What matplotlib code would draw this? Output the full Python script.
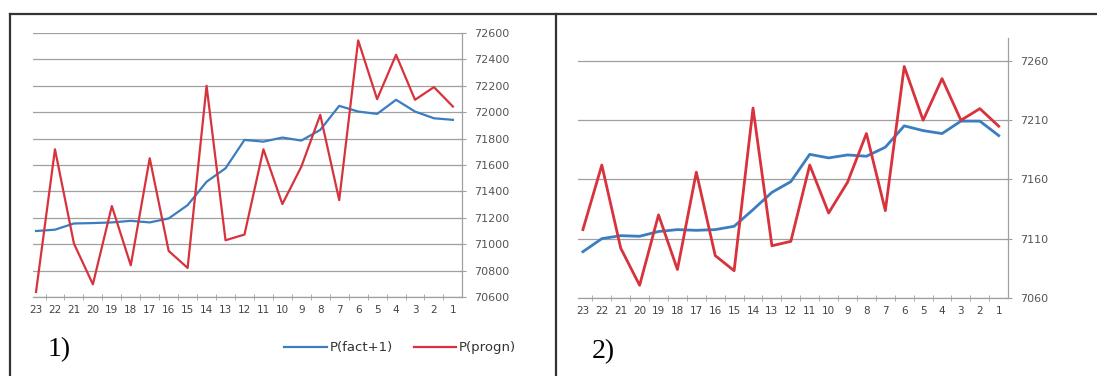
import numpy as np
import matplotlib.pyplot as plt
from matplotlib.lines import Line2D
from matplotlib.ticker import FixedLocator, NullFormatter

# categories (periods, counted backwards)
periods = [str(p) for p in range(23, 0, -1)]

# panel 1
fact1 = [71100, 71110, 71157, 71160, 71165, 71177, 71165, 71195, 71296, 71473, 71575, 71790,
         71777, 71808, 71785, 71866, 72048, 72005, 71987, 72094, 72005, 71954, 71942]
progn1 = [70638, 71719, 71005, 70696, 71289, 70840, 71651, 70949, 70820, 72200, 71030, 71073,
          71719, 71304, 71587, 71980, 71334, 72544, 72099, 72435, 72094, 72190, 72043]
yticks1 = [70600, 70800, 71000, 71200, 71400, 71600, 71800, 72000, 72200, 72400, 72600]

# panel 2
fact2 = [7099, 7110, 7112.5, 7112, 7116, 7117.6, 7117, 7117.6, 7120.4, 7134.4, 7149, 7158,
         7181, 7178, 7180.5, 7179.4, 7187, 7205, 7201, 7198.5, 7209, 7209, 7196.8]
progn2 = [7117.6, 7172, 7102, 7070.7, 7130, 7084, 7166, 7095.7, 7083, 7220, 7104, 7107.7,
          7172, 7131.6, 7157.5, 7198.5, 7133.6, 7255, 7209.7, 7244.8, 7209.7, 7219.5, 7204.7]
yticks2 = [7060, 7110, 7160, 7210, 7260]

BLUE = '#3a7dc0'
RED = '#d8323c'
GRID = '#a0a0a0'

W, H = 1097, 376
fig = plt.figure(figsize=(W / 100, H / 100), dpi=100)
fig.patch.set_facecolor('white')


def make_panel(left, right, top, bottom, fact, progn, yticks, ylim, xlim, lw):
    ax = fig.add_axes([left / W, 1 - bottom / H, (right - left) / W, (bottom - top) / H])
    x = np.arange(len(periods))
    ax.plot(x, fact, color=BLUE, lw=lw, label='P(fact+1)', solid_joinstyle='round')
    ax.plot(x, progn, color=RED, lw=lw, label='P(progn)', solid_joinstyle='round')
    ax.set_xlim(*xlim)
    ax.set_ylim(*ylim)
    ax.set_xticks(x)
    ax.set_xticklabels(periods, fontsize=7.5, color='#444444')
    ax.tick_params(axis='x', which='major', length=0, pad=6)
    ax.xaxis.set_minor_locator(FixedLocator(x[:-1] + 0.5))
    ax.xaxis.set_minor_formatter(NullFormatter())
    ax.tick_params(axis='x', which='minor', length=4, direction='inout', color=GRID)
    ax.yaxis.tick_right()
    ax.set_yticks(yticks)
    ax.tick_params(axis='y', length=6, direction='inout', color=GRID,
                   labelsize=8, labelcolor='#555555', pad=6)
    ax.grid(axis='y', color=GRID, lw=0.9)
    ax.set_axisbelow(True)
    for s in ['top', 'left']:
        ax.spines[s].set_visible(False)
    for s in ['right', 'bottom']:
        ax.spines[s].set_color(GRID)
        ax.spines[s].set_linewidth(0.9)
    return ax


ax1 = make_panel(33, 462, 33, 297, fact1, progn1, yticks1, (70600, 72600), (-0.16, 22.48), 1.6)
ax2 = make_panel(578, 1008, 38, 298, fact2, progn2, yticks2, (7060, 7279), (-0.26, 22.49), 2.0)

# legend only on first panel, below the axis
fig.legend(handles=ax1.get_lines(), loc='center', bbox_to_anchor=(400 / W, 1 - 348 / H),
           ncol=2, frameon=False, fontsize=9.5, handlelength=3.2, handletextpad=0.2,
           columnspacing=1.6, labelcolor='#333333')

fig.text(48 / W, 1 - 350 / H, '1)', fontsize=20, family='Liberation Serif', va='center')
fig.text(592 / W, 1 - 352 / H, '2)', fontsize=20, family='Liberation Serif', va='center')

# outer frame
fig.add_artist(Line2D([10 / W, 1], [1 - 14 / H, 1 - 14 / H], color='#333333', lw=1.6))
fig.add_artist(Line2D([10 / W, 10 / W], [0, 1 - 14 / H], color='#333333', lw=1.6))
fig.add_artist(Line2D([556 / W, 556 / W], [0, 1 - 14 / H], color='#333333', lw=1.6))

fig.savefig('out.png', dpi=100)
